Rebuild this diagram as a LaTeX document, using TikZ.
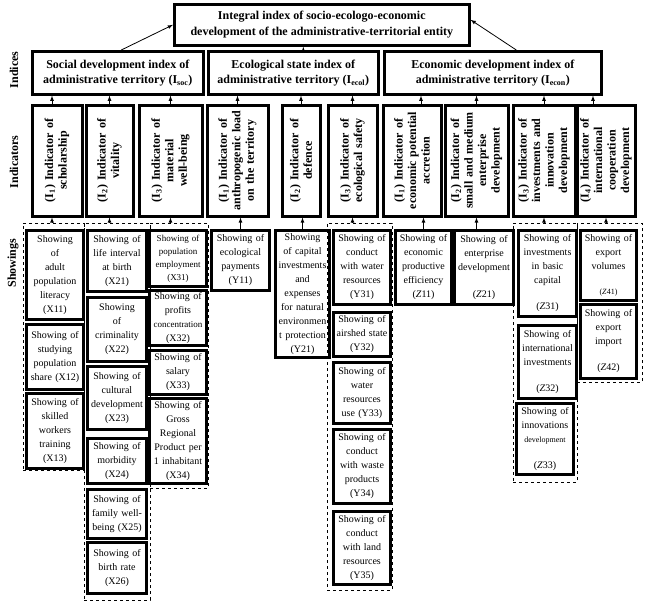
\documentclass[tikz,border=0pt]{standalone}
\usepackage{fontspec}
\setmainfont{Liberation Serif}
\usetikzlibrary{fit}
\begin{document}
\begin{tikzpicture}[x=1pt,y=-1pt,
	idxbox/.style={draw, line width=2.6pt, anchor=north west, align=center, inner sep=1pt, font=\bfseries\fontsize{12}{15}\selectfont},
	indbox/.style={draw, line width=3pt, rotate=90, minimum width=111pt, text width=104pt, align=center, inner sep=1pt, font=\bfseries\fontsize{12}{13.5}\selectfont},
	shbox/.style={draw, line width=3pt, anchor=north west, align=center, inner sep=1pt, font=\fontsize{10}{14}\selectfont},
	grp/.style={draw, dashed, line width=0.8pt, inner sep=0pt},
	side/.style={rotate=90, font=\bfseries\fontsize{12}{14}\selectfont},
	link/.style={-latex, line width=0.8pt}]
	\path[use as bounding box, fill=white] (0,0) rectangle (646,605);
	
	\node[idxbox, minimum width=295pt, minimum height=41pt, font=\bfseries\fontsize{12}{16}\selectfont] (integral) at (173,3) {Integral index of socio-ecologo-economic\\development of the administrative-territorial entity};
	\node[idxbox, minimum width=171pt, minimum height=43pt] (soc) at (31,50) {Social development index of\\administrative territory (I\textsubscript{soc})};
	\node[idxbox, minimum width=170pt, minimum height=43pt] (ecl) at (207,50) {Ecological state index of\\administrative territory (I\textsubscript{ecol})};
	\node[idxbox, minimum width=217pt, minimum height=43pt] (eco) at (383,50) {Economic development index of\\administrative territory (I\textsubscript{econ})};
	
	\node[side] (lidx) at (14,70) {Indices};
	\node[side] (lind) at (14,162) {Indicators};
	\node[side] (lshow) at (13,263) {Showings};
	
	\node[indbox, minimum height=50pt] (si1) at (57,160.5) {(I\textsubscript{1}) Indicator of\\scholarship};
	\node[indbox, minimum height=47pt] (si2) at (109.5,160.5) {(I\textsubscript{2}) Indicator of\\vitality};
	\node[indbox, minimum height=63pt] (si3) at (170.5,160.5) {(I\textsubscript{3}) Indicator of\\material\\well-being};
	\node[indbox, minimum height=61pt] (ei1) at (237.5,160.5) {(I\textsubscript{1}) Indicator of\\anthropogenic load\\on the territory};
	\node[indbox, minimum height=38pt] (ei2) at (301,160.5) {(I\textsubscript{2}) Indicator of\\defence};
	\node[indbox, minimum height=49pt] (ei3) at (352.5,160.5) {(I\textsubscript{3}) Indicator of\\ecological safety};
	\node[indbox, minimum height=58pt] (ci1) at (412,160.5) {(I\textsubscript{1}) Indicator of\\economic potential\\accretion};
	\node[indbox, minimum height=63pt] (ci2) at (476.5,160.5) {(I\textsubscript{2}) Indicator of\\small and medium\\enterprise\\development};
	\node[indbox, minimum height=62pt] (ci3) at (544,160.5) {(I\textsubscript{3}) Indicator of\\investments and\\innovation\\development};
	\node[indbox, minimum height=58pt] (ci4) at (606,160.5) {(I\textsubscript{4}) Indicator of\\international\\cooperation\\development};
	
	\node[grp, fit={(23,223) (84,470)}] (gs1) {};
	\node[grp, fit={(84,223) (150,600)}] (gs2) {};
	\node[grp, fit={(150,223) (208,488)}] (gs3) {};
	\node[grp, fit={(327,223) (392,590)}] (gy3) {};
	\node[grp, fit={(513,223) (577,482)}] (gz3) {};
	\node[grp, fit={(577,223) (642,382)}] (gz4) {};
	
	\node[shbox, minimum width=57pt, minimum height=89pt, text width=53pt] (x11) at (25,229) {Showing\\of\\adult\\population\\literacy\\(X11)};
	\node[shbox, minimum width=57pt, minimum height=65pt, text width=53pt] (x12) at (25,323) {Showing of\\studying\\population\\share (X12)};
	\node[shbox, minimum width=57pt, minimum height=75pt, text width=53pt] (x13) at (25,392) {Showing of\\skilled\\workers\\training\\(X13)};
	\node[shbox, minimum width=59pt, minimum height=61pt, text width=55pt] (x21) at (86,229) {Showing of\\life interval\\at birth\\(X21)};
	\node[shbox, minimum width=59pt, minimum height=64pt, text width=55pt] (x22) at (86,296) {Showing\\of\\criminality\\(X22)};
	\node[shbox, minimum width=59pt, minimum height=63pt, text width=55pt] (x23) at (86,365) {Showing of\\cultural\\development\\(X23)};
	\node[shbox, minimum width=59pt, minimum height=45pt, text width=55pt] (x24) at (86,437) {Showing of\\morbidity\\(X24)};
	\node[shbox, minimum width=59pt, minimum height=49pt, text width=55pt] (x25) at (86,488) {Showing of\\family well-\\being (X25)};
	\node[shbox, minimum width=59pt, minimum height=51pt, text width=55pt] (x26) at (86,541) {Showing of\\birth rate\\(X26)};
	\node[shbox, minimum width=57pt, minimum height=56pt, text width=53pt, font=\fontsize{9}{13}\selectfont] (x31) at (148,229) {Showing of\\population\\employment\\(X31)};
	\node[shbox, minimum width=57pt, minimum height=55pt, text width=53pt] (x32) at (148,289) {Showing of\\profits\\{\fontsize{9}{14}\selectfont concentration}\\(X32)};
	\node[shbox, minimum width=57pt, minimum height=44pt, text width=53pt] (x33) at (148,349) {Showing of\\salary\\(X33)};
	\node[shbox, minimum width=57pt, minimum height=85pt, text width=53pt] (x34) at (148,397) {Showing of\\Gross\\Regional\\Product per\\1 inhabitant\\(X34)};
	
	\node[shbox, minimum width=58pt, minimum height=60pt, text width=54pt] (y11) at (210,229) {Showing of\\ecological\\payments\\(Y11)};
	\node[shbox, minimum width=54pt, minimum height=127pt, text width=50pt] (y21) at (274,229) {Showing\\of capital\\investments\\and\\expenses\\for natural\\environmen\\t protection\\(Y21)};
	\node[shbox, minimum width=57pt, minimum height=74pt, text width=53pt] (y31) at (332,229) {Showing of\\conduct\\with water\\resources\\(Y31)};
	\node[shbox, minimum width=57pt, minimum height=44pt, text width=53pt] (y32) at (332,311) {Showing of\\airshed state\\(Y32)};
	\node[shbox, minimum width=57pt, minimum height=61pt, text width=53pt] (y33) at (332,361) {Showing of\\water\\resources\\use (Y33)};
	\node[shbox, minimum width=57pt, minimum height=74pt, text width=53pt] (y34) at (332,428) {Showing of\\conduct\\with waste\\products\\(Y34)};
	\node[shbox, minimum width=57pt, minimum height=73pt, text width=53pt] (y35) at (332,510) {Showing of\\conduct\\with land\\resources\\(Y35)};
	
	\node[shbox, minimum width=56pt, minimum height=74pt, text width=52pt] (z11) at (394,229) {Showing of\\economic\\productive\\efficiency\\(\textit{Z}11)};
	\node[shbox, minimum width=59pt, minimum height=74pt, text width=55pt] (z21) at (453,229) {Showing of\\enterprise\\development\\[13pt](\textit{Z}21)};
	\node[shbox, minimum width=58pt, minimum height=86pt, text width=54pt] (z31) at (517,229) {Showing of\\investments\\in basic\\capital\\[12pt](\textit{Z}31)};
	\node[shbox, minimum width=58pt, minimum height=73pt, text width=54pt] (z32) at (517,324) {Showing of\\international\\investments\\[12pt](\textit{Z}32)};
	\node[shbox, minimum width=57pt, minimum height=71pt, text width=53pt] (z33) at (515,402) {Showing of\\innovations\\{\footnotesize development}\\[12pt](\textit{Z}33)};
	\node[shbox, minimum width=56pt, minimum height=70pt, text width=52pt] (z41) at (579,229) {Showing of\\export\\volumes\\[11pt]{\footnotesize(\textit{Z}41)}};
	\node[shbox, minimum width=56pt, minimum height=74pt, text width=52pt] (z42) at (579,303) {Showing of\\export\\import\\[12pt](\textit{Z}42)};
	
	\draw[link] ([xshift=3.5pt]soc.north) -- (integral.west);
	\draw[link] ([xshift=10pt]ecl.north) -- ([xshift=10pt]ecl.north |- integral.south);
	\draw[link] ([xshift=23.5pt]eco.north) -- ([yshift=5pt]integral.east);
	
	\draw[link] ([xshift=-5pt]si1.east) -- ([xshift=-5pt]si1.east |- soc.south);
	\draw[link] (si2.east) -- (si2.east |- soc.south);
	\draw[link] (si3.east) -- (si3.east |- soc.south);
	\draw[link] (ei1.east) -- (ei1.east |- ecl.south);
	\draw[link] (ei2.east) -- (ei2.east |- ecl.south);
	\draw[link] (ei3.east) -- (ei3.east |- ecl.south);
	\draw[link] ([xshift=9pt]ci1.east) -- ([xshift=9pt]ci1.east |- eco.south);
	\draw[link] (ci2.east) -- (ci2.east |- eco.south);
	\draw[link] (ci3.east) -- (ci3.east |- eco.south);
	\draw[link] ([xshift=-13pt]ci4.east) -- ([xshift=-13pt]ci4.east |- eco.south);
	
	\draw[link] ([xshift=-5pt]si1.west |- gs1.north) -- ([xshift=-5pt]si1.west);
	\draw[link] (si2.west |- gs2.north) -- (si2.west);
	\draw[link] (si3.west |- gs3.north) -- (si3.west);
	\draw[link] (y11.north) -- (y11.north |- ei1.west);
	\draw[link] (y21.north) -- (y21.north |- ei2.west);
	\draw[link] (ei3.west |- gy3.north) -- (ei3.west);
	\draw[link] (z11.north) -- (z11.north |- ci1.west);
	\draw[link] (ci2.west |- z21.north) -- (ci2.west);
	\draw[link] (ci3.west |- gz3.north) -- (ci3.west);
	\draw[link] (ci4.west |- gz4.north) -- (ci4.west);
\end{tikzpicture}
\end{document}
